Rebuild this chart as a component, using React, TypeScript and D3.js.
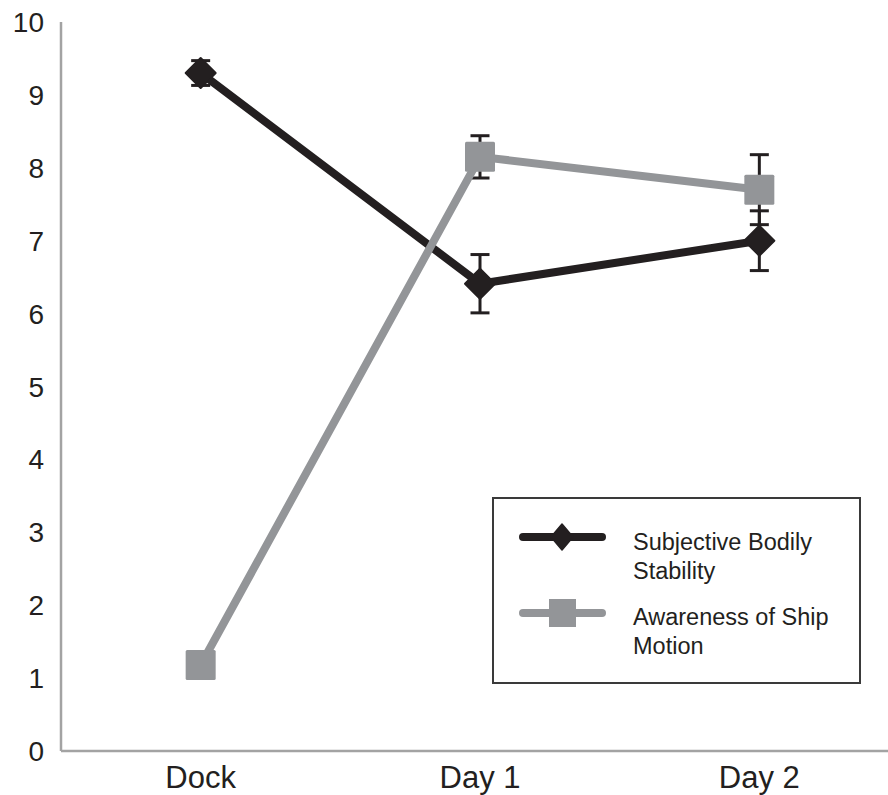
import React from "react";
import * as d3 from "d3";

const categories = ["Dock", "Day 1", "Day 2"];
const stabilityMeans = [9.3, 6.41, 7.0];
const stabilityErrors = [0.17, 0.4, 0.41];
const awarenessMeans = [1.18, 8.15, 7.7];
const awarenessErrors = [0.1, 0.29, 0.48];
const yTicks = [0, 1, 2, 3, 4, 5, 6, 7, 8, 9, 10];
const legendLabels = [["Subjective Bodily", "Stability"], ["Awareness of Ship", "Motion"]];

const W = 888;
const H = 795;
const BLACK = "#231f20";
const GRAY = "#939598";
const AXIS = "#a3a3a3";
const FONT = "Liberation Sans, Arial, Helvetica, sans-serif";

export default function App() {
  const x = d3.scalePoint<string>().domain(categories).range([61, 899]).padding(0.5);
  const y = d3.scaleLinear().domain([0, 10]).range([751, 22]);

  const line = d3
    .line<number>()
    .x((_, i) => x(categories[i]) as number)
    .y((d) => y(d));

  const diamond = (cx: number, cy: number, rx: number, ry: number) =>
    `M${cx},${cy - ry}L${cx + rx},${cy}L${cx},${cy + ry}L${cx - rx},${cy}Z`;

  const errorBars = (means: number[], errs: number[], key: string) =>
    means.map((m, i) => {
      const cx = x(categories[i]) as number;
      const y1 = y(m + errs[i]);
      const y2 = y(m - errs[i]);
      return (
        <g key={key + i} stroke={BLACK} strokeWidth={3}>
          <line x1={cx} x2={cx} y1={y1} y2={y2} />
          <line x1={cx - 9.5} x2={cx + 9.5} y1={y1} y2={y1} />
          <line x1={cx - 9.5} x2={cx + 9.5} y1={y2} y2={y2} />
        </g>
      );
    });

  return (
    <svg
      width={W}
      height={H}
      style={{ position: "absolute", left: 0, top: 0, background: "#fff" }}
      fontFamily={FONT}
    >
      {/* axes */}
      <line x1={61} x2={61} y1={y(10)} y2={y(0)} stroke={AXIS} strokeWidth={2.5} />
      <line x1={61} x2={W} y1={y(0)} y2={y(0)} stroke={AXIS} strokeWidth={2.5} />
      {yTicks.map((t) => (
        <text
          key={t}
          x={44}
          y={y(t)}
          dy="0.36em"
          textAnchor="end"
          fontSize={28}
          fill={BLACK}
        >
          {t}
        </text>
      ))}
      {categories.map((c) => (
        <text
          key={c}
          x={x(c) as number}
          y={788}
          textAnchor="middle"
          fontSize={31}
          fill={BLACK}
        >
          {c}
        </text>
      ))}

      {/* error bars */}
      {errorBars(stabilityMeans, stabilityErrors, "s")}
      {errorBars(awarenessMeans, awarenessErrors, "a")}

      {/* lines */}
      <path d={line(stabilityMeans) || ""} fill="none" stroke={BLACK} strokeWidth={8} strokeLinejoin="round" />
      <path d={line(awarenessMeans) || ""} fill="none" stroke={GRAY} strokeWidth={8} strokeLinejoin="round" />

      {/* markers */}
      {stabilityMeans.map((m, i) => (
        <path
          key={"sd" + i}
          d={diamond(x(categories[i]) as number, y(m), 15, 15)}
          fill={BLACK}
          stroke={BLACK}
          strokeWidth={2}
          strokeLinejoin="round"
        />
      ))}
      {awarenessMeans.map((m, i) => (
        <rect
          key={"as" + i}
          x={(x(categories[i]) as number) - 15}
          y={y(m) - 15}
          width={30}
          height={30}
          rx={1.5}
          fill={GRAY}
        />
      ))}

      {/* legend */}
      <rect x={493} y={498} width={367} height={185} fill="#fff" stroke="#3a3a3a" strokeWidth={2} />
      <line x1={523} x2={602} y1={537} y2={537} stroke={BLACK} strokeWidth={8} strokeLinecap="round" />
      <path d={diamond(562, 537, 11, 13)} fill={BLACK} stroke={BLACK} strokeWidth={1.5} strokeLinejoin="round" />
      <line x1={523} x2={602} y1={613} y2={613} stroke={GRAY} strokeWidth={8} strokeLinecap="round" />
      <rect x={549} y={599} width={27} height={28} fill={GRAY} />
      {legendLabels.map((lines, i) => (
        <text key={"lg" + i} x={633} y={550 + i * 75} fontSize={23.5} fill={BLACK}>
          {lines.map((l, j) => (
            <tspan key={j} x={633} dy={j === 0 ? 0 : 29}>
              {l}
            </tspan>
          ))}
        </text>
      ))}
    </svg>
  );
}
